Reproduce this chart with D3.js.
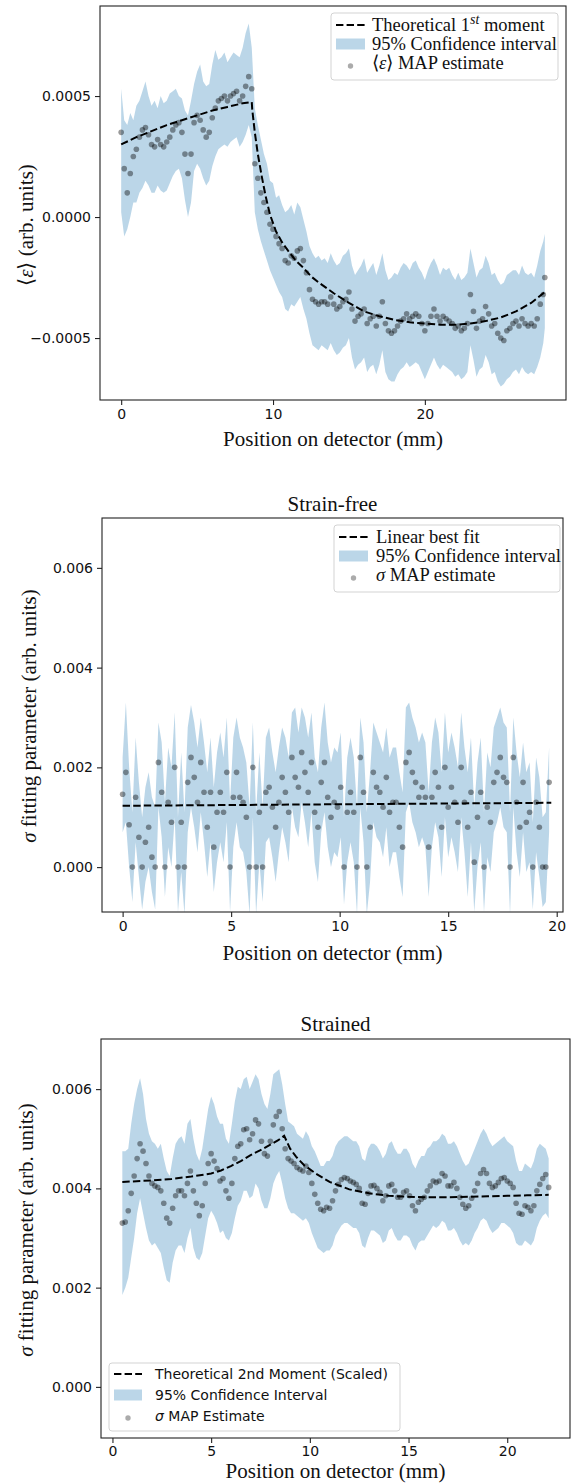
<!DOCTYPE html>
<html><head><meta charset="utf-8">
<script src="https://cdn.jsdelivr.net/npm/d3@7"></script>
<style>body{margin:0;background:#fff}svg{display:block}</style>
</head><body>
<svg id="chart" width="576" height="1483"></svg>
<script>
// ---------- Panel 1 : <eps> ----------
const pos1=[0,0.2,0.4,0.6,0.8,1,1.2,1.4,1.6,1.8,2,2.2,2.4,2.6,2.8,3,3.2,3.4,3.6,3.8,4,4.2,4.4,4.6,4.8,5,5.2,5.4,5.6,5.8,6,6.2,6.4,6.6,6.8,7,7.2,7.4,7.6,7.8,8,8.2,8.4,8.6,8.8,9,9.2,9.4,9.6,9.8,10,10.2,10.4,10.6,10.8,11,11.2,11.4,11.6,11.8,12,12.2,12.4,12.6,12.8,13,13.2,13.4,13.6,13.8,14,14.2,14.4,14.6,14.8,15,15.2,15.4,15.6,15.8,16,16.2,16.4,16.6,16.8,17,17.2,17.4,17.6,17.8,18,18.2,18.4,18.6,18.8,19,19.2,19.4,19.6,19.8,20,20.2,20.4,20.6,20.8,21,21.2,21.4,21.6,21.8,22,22.2,22.4,22.6,22.8,23,23.2,23.4,23.6,23.8,24,24.2,24.4,24.6,24.8,25,25.2,25.4,25.6,25.8,26,26.2,26.4,26.6,26.8,27,27.2,27.4,27.6,27.8,27.9];
const eps1=[3.5e-4,2.0e-4,1.0e-4,1.8e-4,2.5e-4,2.8e-4,3.3e-4,3.6e-4,3.7e-4,3.4e-4,
3.0e-4,2.9e-4,3.2e-4,3.0e-4,2.9e-4,3.1e-4,3.3e-4,3.6e-4,3.8e-4,3.9e-4,
3.5e-4,2.6e-4,1.8e-4,2.6e-4,3.9e-4,4.2e-4,4.0e-4,3.6e-4,3.3e-4,3.5e-4,
4.1e-4,4.5e-4,4.8e-4,4.9e-4,5.0e-4,4.8e-4,5.0e-4,5.1e-4,5.2e-4,4.8e-4,
5.0e-4,5.4e-4,5.8e-4,5.3e-4,2.2e-4,1.6e-4,1.0e-4,0.6e-4,0.2e-4,-0.3e-4,
-0.5e-4,-0.8e-4,-1.1e-4,-1.3e-4,-1.8e-4,-1.9e-4,-1.6e-4,-1.7e-4,-1.4e-4,-1.3e-4,
-1.8e-4,-2.3e-4,-3.0e-4,-3.4e-4,-3.5e-4,-3.6e-4,-3.5e-4,-3.5e-4,-3.6e-4,-3.3e-4,
-3.6e-4,-3.8e-4,-3.7e-4,-3.5e-4,-3.4e-4,-3.1e-4,-3.8e-4,-4.3e-4,-4.1e-4,-4.0e-4,
-3.8e-4,-4.4e-4,-4.2e-4,-4.1e-4,-4.5e-4,-4.1e-4,-3.5e-4,-4.4e-4,-4.7e-4,-4.8e-4,
-4.7e-4,-4.5e-4,-4.3e-4,-4.2e-4,-4.0e-4,-4.2e-4,-4.1e-4,-4.0e-4,-4.1e-4,-4.4e-4,
-4.7e-4,-4.4e-4,-4.1e-4,-3.8e-4,-4.1e-4,-4.3e-4,-4.1e-4,-4.2e-4,-4.3e-4,-4.4e-4,
-4.6e-4,-4.5e-4,-4.7e-4,-4.6e-4,-4.4e-4,-3.2e-4,-3.9e-4,-4.6e-4,-4.3e-4,-4.2e-4,
-3.7e-4,-4.0e-4,-4.5e-4,-4.4e-4,-4.8e-4,-5.0e-4,-5.1e-4,-4.7e-4,-4.6e-4,-4.4e-4,
-4.3e-4,-4.5e-4,-4.2e-4,-4.4e-4,-4.5e-4,-4.4e-4,-4.5e-4,-4.2e-4,-3.6e-4,-3.2e-4,
-2.5e-4];
const hi1=[5.3e-4,4.0e-4,3.8e-4,4.3e-4,4.0e-4,4.6e-4,4.8e-4,5.2e-4,5.6e-4,5.0e-4,
4.6e-4,4.8e-4,4.5e-4,5.0e-4,4.7e-4,4.8e-4,5.1e-4,5.2e-4,5.3e-4,5.0e-4,
4.9e-4,4.4e-4,4.2e-4,4.8e-4,5.5e-4,6.0e-4,6.3e-4,5.6e-4,5.4e-4,5.5e-4,
6.3e-4,6.9e-4,6.5e-4,6.6e-4,6.8e-4,6.4e-4,6.6e-4,6.8e-4,6.7e-4,6.6e-4,
7.0e-4,7.6e-4,8.0e-4,7.0e-4,4.5e-4,3.8e-4,3.2e-4,2.6e-4,2.2e-4,1.5e-4,
1.4e-4,0.8e-4,0.9e-4,0.5e-4,0.2e-4,0.3e-4,0.5e-4,0.1e-4,0.6e-4,0.4e-4,
-0.1e-4,-0.6e-4,-1.2e-4,-1.5e-4,-1.7e-4,-1.6e-4,-1.8e-4,-1.7e-4,-1.9e-4,-1.5e-4,
-1.8e-4,-2.0e-4,-1.9e-4,-1.6e-4,-1.5e-4,-1.3e-4,-2.0e-4,-2.4e-4,-2.2e-4,-2.0e-4,
-1.7e-4,-2.3e-4,-2.1e-4,-1.9e-4,-2.4e-4,-2.0e-4,-1.5e-4,-2.2e-4,-2.6e-4,-2.5e-4,
-2.3e-4,-2.4e-4,-2.1e-4,-1.9e-4,-2.0e-4,-2.2e-4,-1.9e-4,-1.8e-4,-2.1e-4,-2.3e-4,
-2.6e-4,-2.2e-4,-1.9e-4,-1.7e-4,-2.0e-4,-2.4e-4,-2.1e-4,-2.2e-4,-2.1e-4,-2.4e-4,
-2.6e-4,-2.3e-4,-2.6e-4,-2.5e-4,-2.3e-4,-1.3e-4,-1.9e-4,-2.5e-4,-2.2e-4,-2.1e-4,
-1.6e-4,-1.9e-4,-2.4e-4,-2.3e-4,-2.6e-4,-2.8e-4,-2.7e-4,-2.4e-4,-2.3e-4,-2.2e-4,
-2.2e-4,-2.4e-4,-2.0e-4,-2.3e-4,-2.4e-4,-2.3e-4,-2.5e-4,-2.0e-4,-1.4e-4,-1.0e-4,
-0.7e-4];
const lo1=[0.2e-4,-0.8e-4,-0.5e-4,0.0,0.6e-4,0.6e-4,1.0e-4,1.2e-4,1.5e-4,1.3e-4,
1.0e-4,1.0e-4,1.3e-4,1.1e-4,1.0e-4,1.1e-4,1.4e-4,1.7e-4,1.9e-4,2.0e-4,
1.6e-4,0.7e-4,0.0,0.6e-4,1.9e-4,2.2e-4,2.0e-4,1.6e-4,1.3e-4,1.5e-4,
2.1e-4,2.5e-4,2.8e-4,2.9e-4,3.0e-4,2.9e-4,3.1e-4,3.2e-4,3.3e-4,2.9e-4,
3.1e-4,3.4e-4,3.8e-4,3.3e-4,0.2e-4,-0.5e-4,-1.0e-4,-1.4e-4,-1.8e-4,-2.2e-4,
-2.5e-4,-2.8e-4,-3.1e-4,-3.3e-4,-3.8e-4,-3.9e-4,-3.6e-4,-3.7e-4,-3.5e-4,-3.3e-4,
-3.8e-4,-4.2e-4,-4.8e-4,-5.3e-4,-5.4e-4,-5.5e-4,-5.3e-4,-5.4e-4,-5.5e-4,-5.2e-4,
-5.5e-4,-5.7e-4,-5.6e-4,-5.4e-4,-5.3e-4,-5.0e-4,-5.8e-4,-6.3e-4,-6.1e-4,-6.0e-4,
-5.8e-4,-6.4e-4,-6.2e-4,-6.1e-4,-6.5e-4,-6.1e-4,-5.5e-4,-6.4e-4,-6.7e-4,-6.8e-4,
-6.8e-4,-6.5e-4,-6.3e-4,-6.2e-4,-6.0e-4,-6.2e-4,-6.1e-4,-6.0e-4,-6.1e-4,-6.4e-4,
-6.7e-4,-6.4e-4,-6.1e-4,-5.8e-4,-6.1e-4,-6.3e-4,-6.1e-4,-6.2e-4,-6.3e-4,-6.4e-4,
-6.6e-4,-6.5e-4,-6.7e-4,-6.6e-4,-6.4e-4,-5.3e-4,-5.9e-4,-6.6e-4,-6.3e-4,-6.2e-4,
-5.7e-4,-6.0e-4,-6.5e-4,-6.4e-4,-6.8e-4,-7.0e-4,-6.9e-4,-6.7e-4,-6.6e-4,-6.4e-4,
-6.3e-4,-6.5e-4,-6.2e-4,-6.4e-4,-6.5e-4,-6.4e-4,-6.5e-4,-6.2e-4,-5.8e-4,-5.2e-4,
-4.6e-4];
const theoryX1=[0,1,2,3,4,5,6,7,8,8.6,8.63,8.8,9,9.25,9.5,9.8,10.2,10.6,11,11.5,12,12.5,13,14,15,16,17,18,19,20,21,22,23,24,25,26,27,27.9];
const theoryY1=[3.0e-4,3.3e-4,3.55e-4,3.8e-4,4.0e-4,4.2e-4,4.4e-4,4.55e-4,4.7e-4,4.75e-4,4.45e-4,3.5e-4,2.6e-4,1.7e-4,0.9e-4,0.1e-4,-0.6e-4,-1.05e-4,-1.4e-4,-1.8e-4,-2.1e-4,-2.45e-4,-2.7e-4,-3.15e-4,-3.55e-4,-3.9e-4,-4.1e-4,-4.25e-4,-4.35e-4,-4.4e-4,-4.45e-4,-4.45e-4,-4.4e-4,-4.3e-4,-4.15e-4,-3.9e-4,-3.55e-4,-3.1e-4];
const xTicks1=[0,10,20];
const yTicks1=[-0.0005,0,0.0005];

// ---------- Panel 2 : Strain-free ----------
const pos2=[0,0.15,0.3,0.45,0.6,0.75,0.9,1.05,1.2,1.35,1.5,1.65,1.8,1.95,2.1,2.25,2.4,2.55,2.7,2.85,3,3.15,3.3,3.45,3.6,3.75,3.9,4.05,4.2,4.35,4.5,4.65,4.8,4.95,5.1,5.25,5.4,5.55,5.7,5.85,6,6.15,6.3,6.45,6.6,6.75,6.9,7.05,7.2,7.35,7.5,7.65,7.8,7.95,8.1,8.25,8.4,8.55,8.7,8.85,9,9.15,9.3,9.45,9.6,9.75,9.9,10.05,10.2,10.35,10.5,10.65,10.8,10.95,11.1,11.25,11.4,11.55,11.7,11.85,12,12.15,12.3,12.45,12.6,12.75,12.9,13.05,13.2,13.35,13.5,13.65,13.8,13.95,14.1,14.25,14.4,14.55,14.7,14.85,15,15.15,15.3,15.45,15.6,15.75,15.9,16.05,16.2,16.35,16.5,16.65,16.8,16.95,17.1,17.25,17.4,17.55,17.7,17.85,18,18.15,18.3,18.45,18.6,18.75,18.9,19.05,19.2,19.35,19.5,19.65];
const sig2=[1.46e-3,1.9e-3,0.85e-3,0,1.4e-3,0.6e-3,0,0.5e-3,0.8e-3,0.2e-3,
0,2.1e-3,1.5e-3,0,1.3e-3,0.9e-3,2.0e-3,0,0.9e-3,0,
1.7e-3,2.2e-3,1.8e-3,1.3e-3,2.1e-3,1.5e-3,0.8e-3,1.5e-3,0.4e-3,1.1e-3,
1.5e-3,1.1e-3,1.9e-3,0,1.4e-3,1.9e-3,1.4e-3,1.3e-3,1.0e-3,0,
2.0e-3,0,1.1e-3,0,1.5e-3,1.6e-3,1.2e-3,0.8e-3,1.3e-3,1.8e-3,
1.5e-3,1.1e-3,2.2e-3,1.8e-3,1.6e-3,2.3e-3,1.9e-3,1.5e-3,2.1e-3,1.1e-3,
0.8e-3,1.7e-3,2.1e-3,1.4e-3,1.0e-3,1.3e-3,1.2e-3,1.6e-3,0,1.1e-3,
1.5e-3,1.1e-3,0,2.2e-3,1.5e-3,0,0.8e-3,1.9e-3,1.6e-3,1.5e-3,
1.2e-3,1.8e-3,1.1e-3,1.3e-3,1.3e-3,0.8e-3,0.4e-3,2.1e-3,2.3e-3,1.9e-3,
1.7e-3,1.4e-3,1.6e-3,1.4e-3,0.4e-3,1.4e-3,1.9e-3,1.6e-3,0.8e-3,2.0e-3,
1.2e-3,1.6e-3,1.3e-3,0.9e-3,2.0e-3,1.3e-3,0.8e-3,1.5e-3,0.1e-3,1.0e-3,
1.5e-3,0,1.2e-3,0.9e-3,1.7e-3,1.9e-3,2.2e-3,1.8e-3,1.7e-3,0,
2.2e-3,1.3e-3,0.8e-3,1.7e-3,0.9e-3,1.1e-3,0,1.3e-3,0.8e-3,0,
0,1.7e-3];
const hi2=[2.2e-3,3.3e-3,2.0e-3,1.1e-3,2.6e-3,1.7e-3,1.0e-3,1.6e-3,1.9e-3,1.4e-3,
1.2e-3,2.9e-3,2.5e-3,1.3e-3,2.4e-3,2.0e-3,3.1e-3,1.0e-3,2.3e-3,1.1e-3,
2.8e-3,3.25e-3,2.9e-3,2.4e-3,3.0e-3,2.5e-3,1.9e-3,2.6e-3,1.6e-3,2.3e-3,
2.7e-3,2.2e-3,3.0e-3,1.3e-3,2.6e-3,3.0e-3,2.6e-3,2.4e-3,2.1e-3,1.2e-3,
2.9e-3,1.1e-3,2.3e-3,1.2e-3,2.6e-3,2.8e-3,2.3e-3,1.9e-3,2.4e-3,2.8e-3,
2.6e-3,2.2e-3,3.1e-3,3.2e-3,2.7e-3,3.2e-3,3.0e-3,2.6e-3,3.1e-3,2.2e-3,
1.9e-3,2.8e-3,3.3e-3,2.5e-3,2.1e-3,2.4e-3,2.3e-3,2.7e-3,1.0e-3,2.2e-3,
2.6e-3,2.2e-3,1.2e-3,3.0e-3,2.5e-3,1.1e-3,1.9e-3,2.9e-3,2.7e-3,2.5e-3,
2.3e-3,2.8e-3,2.2e-3,2.4e-3,2.4e-3,1.9e-3,1.5e-3,3.2e-3,3.3e-3,3.0e-3,
2.8e-3,2.5e-3,2.7e-3,2.5e-3,1.5e-3,2.5e-3,3.0e-3,2.7e-3,1.9e-3,3.1e-3,
2.3e-3,2.7e-3,2.4e-3,2.0e-3,3.1e-3,2.4e-3,1.9e-3,2.6e-3,1.2e-3,2.1e-3,
2.6e-3,1.1e-3,2.3e-3,2.0e-3,2.8e-3,3.0e-3,3.2e-3,2.9e-3,2.8e-3,1.1e-3,
3.0e-3,2.3e-3,1.8e-3,2.5e-3,1.9e-3,2.1e-3,0.9e-3,2.2e-3,1.8e-3,1.0e-3,
1.1e-3,2.4e-3];
const lo2=[0.7e-3,0.9e-3,0,-0.7e-3,0.5e-3,-0.2e-3,-0.85e-3,-0.3e-3,0,-0.5e-3,
-0.85e-3,1.2e-3,0.6e-3,-0.6e-3,0.4e-3,0,1.0e-3,-0.9e-3,-0.1e-3,-0.95e-3,
0.7e-3,1.2e-3,0.8e-3,0.3e-3,1.1e-3,0.5e-3,-0.2e-3,0.5e-3,-0.5e-3,0.1e-3,
0.5e-3,0.1e-3,0.9e-3,-0.9e-3,0.4e-3,0.9e-3,0.4e-3,0.3e-3,-0.1e-3,-0.95e-3,
1.0e-3,-0.95e-3,0.1e-3,-0.7e-3,0.5e-3,0.6e-3,0.2e-3,-0.3e-3,0.3e-3,0.8e-3,
0.5e-3,0.1e-3,1.2e-3,0.8e-3,0.6e-3,1.3e-3,0.9e-3,0.4e-3,1.1e-3,0.1e-3,
-0.3e-3,0.7e-3,1.1e-3,0.4e-3,0,0.3e-3,0.2e-3,0.6e-3,-0.75e-3,0.1e-3,
0.5e-3,0.1e-3,-0.95e-3,1.2e-3,0.5e-3,-0.95e-3,-0.3e-3,0.9e-3,0.6e-3,0.5e-3,
0.2e-3,0.8e-3,0,0.3e-3,0.3e-3,-0.2e-3,-0.6e-3,1.1e-3,1.3e-3,0.9e-3,
0.7e-3,0.4e-3,0.6e-3,0.4e-3,-0.6e-3,0.4e-3,0.9e-3,0.6e-3,-0.2e-3,1.0e-3,
0.2e-3,0.6e-3,0.3e-3,-0.1e-3,1.0e-3,0.3e-3,-0.6e-3,0.5e-3,-0.9e-3,0,
0.5e-3,-0.9e-3,0.2e-3,-0.1e-3,0.7e-3,0.9e-3,1.2e-3,0.8e-3,0.7e-3,-0.95e-3,
1.2e-3,0.3e-3,-0.2e-3,0.7e-3,-0.1e-3,0.1e-3,-0.85e-3,0.3e-3,-0.2e-3,-0.8e-3,
-0.7e-3,0.7e-3];
const fitX2=[0,19.75];
const fitY2=[1.23e-3,1.29e-3];
const xTicks2=[0,5,10,15,20];
const yTicks2=[0,0.002,0.004,0.006];

// ---------- Panel 3 : Strained ----------
const pos3=[0.5,0.65,0.8,0.95,1.1,1.25,1.4,1.55,1.7,1.85,2,2.15,2.3,2.45,2.6,2.75,2.9,3.05,3.2,3.35,3.5,3.65,3.8,3.95,4.1,4.25,4.4,4.55,4.7,4.85,5,5.15,5.3,5.45,5.6,5.75,5.9,6.05,6.2,6.35,6.5,6.65,6.8,6.95,7.1,7.25,7.4,7.55,7.7,7.85,8,8.15,8.3,8.45,8.6,8.75,8.9,9.05,9.2,9.35,9.5,9.65,9.8,9.95,10.1,10.25,10.4,10.55,10.7,10.85,11,11.15,11.3,11.45,11.6,11.75,11.9,12.05,12.2,12.35,12.5,12.65,12.8,12.95,13.1,13.25,13.4,13.55,13.7,13.85,14,14.15,14.3,14.45,14.6,14.75,14.9,15.05,15.2,15.35,15.5,15.65,15.8,15.95,16.1,16.25,16.4,16.55,16.7,16.85,17,17.15,17.3,17.45,17.6,17.75,17.9,18.05,18.2,18.35,18.5,18.65,18.8,18.95,19.1,19.25,19.4,19.55,19.7,19.85,20,20.15,20.3,20.45,20.6,20.75,20.9,21.05,21.2,21.35,21.5,21.65,21.8,21.95,22.1];
const sig3=[3.30e-3,3.32e-3,3.55e-3,3.90e-3,4.25e-3,4.60e-3,4.90e-3,4.75e-3,4.50e-3,4.25e-3,
4.10e-3,4.05e-3,4.02e-3,3.95e-3,3.70e-3,3.40e-3,3.30e-3,3.60e-3,3.85e-3,3.95e-3,
3.95e-3,3.85e-3,4.10e-3,4.35e-3,3.95e-3,3.70e-3,3.45e-3,3.65e-3,4.10e-3,4.50e-3,
4.70e-3,4.55e-3,4.40e-3,4.15e-3,4.20e-3,3.95e-3,3.80e-3,4.10e-3,4.60e-3,4.85e-3,
4.90e-3,5.18e-3,5.20e-3,4.98e-3,5.10e-3,5.38e-3,5.30e-3,4.95e-3,4.70e-3,4.65e-3,
4.95e-3,5.28e-3,5.45e-3,5.55e-3,5.20e-3,4.80e-3,4.60e-3,4.55e-3,4.50e-3,4.42e-3,
4.38e-3,4.35e-3,4.45e-3,4.32e-3,4.10e-3,3.88e-3,3.70e-3,3.58e-3,3.55e-3,3.62e-3,
3.60e-3,3.75e-3,3.95e-3,4.08e-3,4.18e-3,4.22e-3,4.20e-3,4.15e-3,4.12e-3,4.08e-3,
4.00e-3,3.70e-3,3.68e-3,3.90e-3,4.05e-3,4.06e-3,4.00e-3,3.92e-3,3.75e-3,3.85e-3,
4.05e-3,4.08e-3,3.95e-3,3.82e-3,3.82e-3,3.92e-3,3.95e-3,3.85e-3,3.65e-3,3.55e-3,
3.72e-3,3.78e-3,3.82e-3,3.95e-3,4.05e-3,4.15e-3,4.12e-3,4.15e-3,4.30e-3,4.25e-3,
4.05e-3,4.05e-3,4.12e-3,4.00e-3,3.82e-3,3.68e-3,3.60e-3,3.65e-3,3.80e-3,3.95e-3,
4.10e-3,4.30e-3,4.38e-3,4.30e-3,4.10e-3,4.02e-3,4.05e-3,4.12e-3,4.20e-3,4.22e-3,
4.15e-3,4.10e-3,4.02e-3,3.70e-3,3.50e-3,3.48e-3,3.65e-3,3.62e-3,3.55e-3,3.65e-3,
3.95e-3,4.08e-3,4.20e-3,4.28e-3,4.02e-3];
const hi3=[4.75e-3,4.75e-3,4.8e-3,5.3e-3,5.7e-3,6.0e-3,6.22e-3,5.9e-3,5.4e-3,5.1e-3,
4.95e-3,4.9e-3,4.8e-3,4.9e-3,4.6e-3,4.35e-3,4.25e-3,4.6e-3,4.9e-3,5.0e-3,
5.05e-3,4.9e-3,5.3e-3,5.4e-3,5.0e-3,4.7e-3,4.55e-3,4.8e-3,5.2e-3,5.6e-3,
5.85e-3,5.7e-3,5.45e-3,5.3e-3,5.3e-3,5.0e-3,4.9e-3,5.3e-3,5.75e-3,6.05e-3,
6.0e-3,6.2e-3,6.25e-3,6.0e-3,6.15e-3,6.3e-3,6.2e-3,5.9e-3,5.7e-3,5.6e-3,
5.9e-3,6.3e-3,6.35e-3,6.4e-3,6.1e-3,5.7e-3,5.35e-3,5.3e-3,5.25e-3,5.1e-3,
5.05e-3,5.0e-3,5.15e-3,5.05e-3,4.85e-3,4.75e-3,4.6e-3,4.45e-3,4.45e-3,4.55e-3,
4.55e-3,4.65e-3,4.85e-3,4.95e-3,5.0e-3,5.05e-3,5.05e-3,5.0e-3,4.95e-3,4.95e-3,
4.85e-3,4.6e-3,4.55e-3,4.8e-3,4.9e-3,4.9e-3,4.85e-3,4.75e-3,4.6e-3,4.7e-3,
4.9e-3,4.95e-3,4.8e-3,4.7e-3,4.7e-3,4.8e-3,4.8e-3,4.7e-3,4.5e-3,4.4e-3,
4.55e-3,4.65e-3,4.65e-3,4.8e-3,4.85e-3,4.95e-3,4.95e-3,5.0e-3,5.1e-3,5.05e-3,
4.9e-3,4.9e-3,4.95e-3,4.85e-3,4.7e-3,4.55e-3,4.45e-3,4.5e-3,4.65e-3,4.8e-3,
4.95e-3,5.1e-3,5.2e-3,5.1e-3,4.95e-3,4.85e-3,4.9e-3,4.95e-3,5.0e-3,5.05e-3,
4.95e-3,4.9e-3,4.85e-3,4.55e-3,4.35e-3,4.35e-3,4.5e-3,4.45e-3,4.4e-3,4.55e-3,
4.8e-3,4.9e-3,4.85e-3,4.8e-3,4.6e-3];
const lo3=[1.85e-3,2.0e-3,2.2e-3,2.6e-3,3.0e-3,3.5e-3,3.8e-3,3.5e-3,3.2e-3,2.95e-3,
2.85e-3,2.9e-3,2.8e-3,2.7e-3,2.4e-3,2.15e-3,2.1e-3,2.5e-3,2.75e-3,2.85e-3,
2.85e-3,2.7e-3,3.0e-3,3.2e-3,2.8e-3,2.6e-3,2.55e-3,2.7e-3,3.05e-3,3.4e-3,
3.55e-3,3.45e-3,3.3e-3,3.1e-3,3.15e-3,3.0e-3,2.95e-3,3.1e-3,3.4e-3,3.65e-3,
3.75e-3,3.95e-3,3.95e-3,3.8e-3,3.85e-3,4.1e-3,4.0e-3,3.75e-3,3.6e-3,3.6e-3,
3.8e-3,4.1e-3,4.25e-3,4.35e-3,4.1e-3,3.8e-3,3.6e-3,3.5e-3,3.5e-3,3.45e-3,
3.4e-3,3.35e-3,3.4e-3,3.3e-3,3.1e-3,2.95e-3,2.8e-3,2.75e-3,2.7e-3,2.75e-3,
2.75e-3,2.85e-3,3.05e-3,3.15e-3,3.25e-3,3.3e-3,3.3e-3,3.25e-3,3.2e-3,3.2e-3,
3.1e-3,2.85e-3,2.8e-3,3.0e-3,3.15e-3,3.15e-3,3.1e-3,3.05e-3,2.9e-3,2.95e-3,
3.15e-3,3.2e-3,3.05e-3,2.95e-3,2.95e-3,3.05e-3,3.05e-3,3.0e-3,2.85e-3,2.75e-3,
2.9e-3,2.95e-3,2.95e-3,3.05e-3,3.15e-3,3.25e-3,3.2e-3,3.25e-3,3.35e-3,3.3e-3,
3.15e-3,3.15e-3,3.2e-3,3.1e-3,2.95e-3,2.85e-3,2.9e-3,2.85e-3,2.95e-3,3.1e-3,
3.2e-3,3.35e-3,3.4e-3,3.35e-3,3.2e-3,3.1e-3,3.15e-3,3.2e-3,3.3e-3,3.3e-3,
3.25e-3,3.2e-3,3.1e-3,2.9e-3,2.85e-3,2.85e-3,2.95e-3,2.9e-3,2.85e-3,2.95e-3,
3.2e-3,3.35e-3,3.45e-3,3.5e-3,3.4e-3];
const theoryX3=[0.5,1,2,3,4,5,5.5,6,6.5,7,7.5,8,8.4,8.7,9.0,9.3,9.7,10.3,11,12,13,14,15,16,17,18,19,20,21,22.1];
const theoryY3=[4.13e-3,4.14e-3,4.16e-3,4.19e-3,4.24e-3,4.3e-3,4.36e-3,4.45e-3,4.55e-3,4.67e-3,4.77e-3,4.88e-3,4.97e-3,5.06e-3,4.8e-3,4.64e-3,4.47e-3,4.3e-3,4.13e-3,3.98e-3,3.9e-3,3.85e-3,3.83e-3,3.82e-3,3.82e-3,3.83e-3,3.84e-3,3.85e-3,3.86e-3,3.87e-3];
const xTicks3=[0,5,10,15,20];
const yTicks3=[0,0.002,0.004,0.006];

// ---------- drawing ----------
const svg=d3.select("#chart");
const defs=svg.append("defs");
const SERIF="'Liberation Serif','Times New Roman',serif";
const SANS="'DejaVu Sans',sans-serif";
const BAND="#1f77b4";

function drawPanel(p){
  const x=d3.scaleLinear().domain(p.xDomain).range([p.left,p.right]);
  const y=d3.scaleLinear().domain(p.yDomain).range([p.bottom,p.top]);
  const g=svg.append("g");
  defs.append("clipPath").attr("id",p.id).append("rect")
    .attr("x",p.left).attr("y",p.top).attr("width",p.right-p.left).attr("height",p.bottom-p.top);
  const plot=g.append("g").attr("clip-path",`url(#${p.id})`);
  const rows=p.pos.map((v,i)=>({x:v,m:p.mean[i],lo:p.lo[i],hi:p.hi[i]}));
  plot.append("path").datum(rows)
    .attr("d",d3.area().x(d=>x(d.x)).y0(d=>y(d.lo)).y1(d=>y(d.hi)))
    .attr("fill",BAND).attr("fill-opacity",0.3).attr("stroke","none");
  plot.append("g").selectAll("circle").data(rows).join("circle")
    .attr("cx",d=>x(d.x)).attr("cy",d=>y(d.m)).attr("r",2.8)
    .attr("fill","#000").attr("fill-opacity",0.4);
  const lineData=p.lineX.map((v,i)=>[v,p.lineY[i]]);
  plot.append("path").datum(lineData)
    .attr("d",d3.line().x(d=>x(d[0])).y(d=>y(d[1])))
    .attr("fill","none").attr("stroke","#000").attr("stroke-width",2)
    .attr("stroke-dasharray","7.4,3.2");
  // axes
  const xa=g.append("g").attr("transform",`translate(0,${p.bottom})`)
    .call(d3.axisBottom(x).tickValues(p.xTicks).tickSize(5).tickPadding(p.xPad).tickFormat(d3.format("d")));
  const ya=g.append("g").attr("transform",`translate(${p.left},0)`)
    .call(d3.axisLeft(y).tickValues(p.yTicks).tickSize(5).tickPadding(4).tickFormat(p.yFmt));
  [xa,ya].forEach(a=>{
    a.select(".domain").remove();
    a.selectAll("line").attr("stroke","#222").attr("stroke-width",1.1);
    a.selectAll("text").attr("font-family",SANS).attr("font-size",14).attr("fill","#111");
  });
  g.append("rect").attr("x",p.left).attr("y",p.top).attr("width",p.right-p.left).attr("height",p.bottom-p.top)
    .attr("fill","none").attr("stroke","#222").attr("stroke-width",1.1);
  // x label
  g.append("text").attr("x",(p.left+p.right)/2).attr("y",p.xlabelY).attr("text-anchor","middle")
    .attr("font-family",SERIF).attr("font-size",21).attr("fill","#111").text("Position on detector (mm)");
  // y label
  const yl=g.append("text").attr("transform",`translate(${p.ylabelX},${p.ylabelY}) rotate(-90)`)
    .attr("text-anchor","middle").attr("font-family",SERIF).attr("font-size",21).attr("fill","#111");
  p.ylabel.forEach(s=>{const t=yl.append("tspan").text(s.t); if(s.i) t.attr("font-style","italic");});
  if(p.title){
    g.append("text").attr("x",(p.left+p.right)/2).attr("y",p.titleY).attr("text-anchor","middle")
      .attr("font-family",SERIF).attr("font-size",21).attr("fill","#111").text(p.title);
  }
  // legend
  const L=p.legend;
  const lg=g.append("g");
  lg.append("rect").attr("x",L.x0).attr("y",L.y0).attr("width",L.x1-L.x0).attr("height",L.y1-L.y0)
    .attr("rx",3).attr("fill","#fff").attr("fill-opacity",0.8).attr("stroke","#d3d3d3").attr("stroke-width",1);
  lg.append("line").attr("x1",L.hx0).attr("x2",L.hx1).attr("y1",L.rows[0]).attr("y2",L.rows[0])
    .attr("stroke","#000").attr("stroke-width",2).attr("stroke-dasharray","7.4,3.2");
  lg.append("rect").attr("x",L.hx0).attr("y",L.rows[1]-5.5).attr("width",L.hx1-L.hx0).attr("height",11)
    .attr("fill",BAND).attr("fill-opacity",0.3);
  lg.append("circle").attr("cx",(L.hx0+L.hx1)/2).attr("cy",L.rows[2]+L.dotDy).attr("r",2.7)
    .attr("fill","#000").attr("fill-opacity",0.33);
  L.labels.forEach((parts,i)=>{
    const t=lg.append("text").attr("x",L.tx).attr("y",L.rows[i]+L.baseDy)
      .attr("font-family",L.font).attr("font-size",L.size).attr("fill","#111");
    parts.forEach(s=>{
      const ts=t.append("tspan").text(s.t);
      if(s.i) ts.attr("font-style","italic");
      if(s.sup) ts.attr("font-size",L.size*0.75).attr("dy",-7);
      if(s.down) ts.attr("dy",7);
    });
  });
}

drawPanel({id:"c1",left:100,right:566,top:6,bottom:400,
  xDomain:[-1.395,29.295],yDomain:[-0.000756,0.000872],
  xTicks:xTicks1,yTicks:yTicks1,yFmt:d3.format(".4f"),xPad:4,
  pos:pos1,mean:eps1,lo:lo1,hi:hi1,lineX:theoryX1,lineY:theoryY1,
  xlabelY:446,ylabelX:33,ylabelY:225,
  ylabel:[{t:"⟨"},{t:"ε",i:true},{t:"⟩ (arb. units)"}],
  legend:{x0:331,x1:558,y0:13,y1:80,hx0:336,hx1:365,tx:372,rows:[25,44,63],baseDy:6,dotDy:3,
    font:SERIF,size:18.5,
    labels:[[{t:"Theoretical 1"},{t:"st",i:true,sup:true},{t:" moment",down:true}],
            [{t:"95% Confidence interval"}],
            [{t:"⟨"},{t:"ε",i:true},{t:"⟩ MAP estimate"}]]}
});

drawPanel({id:"c2",left:102,right:563,top:518,bottom:912,
  xDomain:[-0.95,20.29],yDomain:[-0.0009,0.007],
  xTicks:xTicks2,yTicks:yTicks2,yFmt:d3.format(".3f"),xPad:4,
  pos:pos2,mean:sig2,lo:lo2,hi:hi2,lineX:fitX2,lineY:fitY2,
  xlabelY:960,ylabelX:36,ylabelY:716,title:"Strain-free",titleY:511,
  ylabel:[{t:"σ",i:true},{t:" fitting parameter (arb.  units)"}],
  legend:{x0:334,x1:560,y0:525,y1:592,hx0:339,hx1:368,tx:376,rows:[537,556,575],baseDy:6,dotDy:3,
    font:SERIF,size:18.5,
    labels:[[{t:"Linear best fit"}],[{t:"95% Confidence interval"}],[{t:"σ",i:true},{t:" MAP estimate"}]]}
});

drawPanel({id:"c3",left:101,right:570,top:1039,bottom:1438,
  xDomain:[-0.58,23.18],yDomain:[-0.00103,0.00701],
  xTicks:xTicks3,yTicks:yTicks3,yFmt:d3.format(".3f"),xPad:3,
  pos:pos3,mean:sig3,lo:lo3,hi:hi3,lineX:theoryX3,lineY:theoryY3,
  xlabelY:1478,ylabelX:33,ylabelY:1230,title:"Strained",titleY:1031,
  ylabel:[{t:"σ",i:true},{t:" fitting parameter (arb.  units)"}],
  legend:{x0:109,x1:400,y0:1363,y1:1431,hx0:114,hx1:142,tx:155,rows:[1374,1395,1416],baseDy:5,dotDy:2,
    font:SANS,size:14,
    labels:[[{t:"Theoretical 2nd Moment (Scaled)"}],[{t:"95% Confidence Interval"}],[{t:"σ",i:true},{t:" MAP Estimate"}]]}
});
</script>
</body></html>
